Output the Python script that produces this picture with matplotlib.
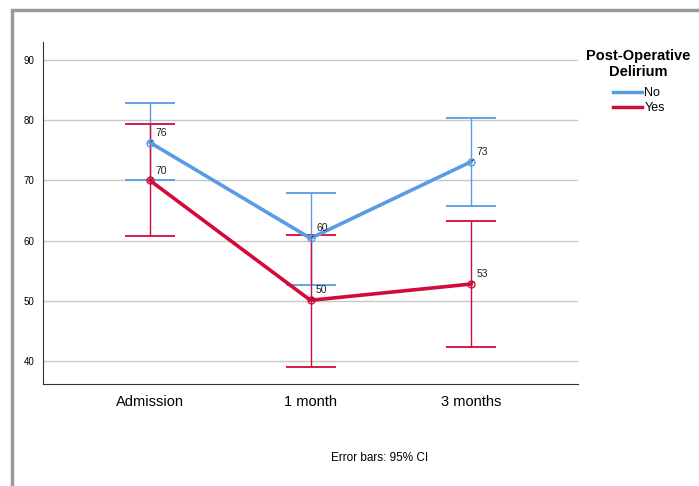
import numpy as np
import matplotlib.pyplot as plt
from matplotlib.patches import Rectangle

plt.rcParams['font.family'] = ['Liberation Sans', 'DejaVu Sans']

categories = ['Admission', '1 month', '3 months']
no_mean = [76.3, 60.4, 73.1]
no_lo = [70.0, 52.6, 65.7]
no_hi = [82.9, 68.0, 80.4]
yes_mean = [70.0, 50.1, 52.8]
yes_lo = [60.8, 39.0, 42.4]
yes_hi = [79.3, 60.9, 63.3]
no_labels = ['76', '60', '73']
yes_labels = ['70', '50', '53']

blue = '#5a9be6'
red = '#d50a3c'

fig = plt.figure(figsize=(6.99, 4.86), dpi=100)
ax = fig.add_axes([43/699, 1-384/486, (578-43)/699, (384-42)/486])

x = np.arange(len(categories))

def draw(mean, lo, hi, labels, col):
    mean = np.array(mean)
    err = [mean - np.array(lo), np.array(hi) - mean]
    ax.errorbar(x, mean, yerr=err, fmt='none', ecolor=col, elinewidth=1,
                capsize=18, capthick=1.3, zorder=3)
    ax.plot(x, mean, color=col, lw=2.6, zorder=4)
    ax.plot(x, mean, 'o', ms=5, mfc='none', mec=col, mew=1, zorder=5)
    for xi, yi, t in zip(x, mean, labels):
        ax.annotate(t, (xi, yi), xytext=(4, 5), textcoords='offset points',
                    fontsize=7.5, color='#222222', zorder=6,
                    arrowprops=dict(arrowstyle='-', lw=0.6, color='#222222',
                                    shrinkA=0, shrinkB=1))

draw(no_mean, no_lo, no_hi, no_labels, blue)
draw(yes_mean, yes_lo, yes_hi, yes_labels, red)

ax.set_xlim(-0.667, 2.667)
ax.set_ylim(36.2, 93)
ax.set_yticks([40, 50, 60, 70, 80, 90])
ax.set_xticks(x)
ax.set_xticklabels(categories, fontsize=10.5)
ax.tick_params(axis='y', length=0, labelsize=7, pad=6)
ax.tick_params(axis='x', length=0, pad=8)
ax.yaxis.grid(True, color='#c8c8c8', lw=1)
ax.set_axisbelow(True)
for s in ['top', 'right']:
    ax.spines[s].set_visible(False)
for s in ['left', 'bottom']:
    ax.spines[s].set_color('#333333')
    ax.spines[s].set_linewidth(0.8)

fig.text(638/699, 1-64/486, 'Post-Operative\nDelirium', ha='center', va='center',
         fontsize=10.5, fontweight='bold', linespacing=1.1)
ax.plot([], [], color=blue, lw=2.5, label='No')
ax.plot([], [], color=red, lw=2.5, label='Yes')
h, l = ax.get_legend_handles_labels()
fig.legend(h[-2:], l[-2:], loc='upper left', bbox_to_anchor=(613/699, 1-87/486),
           frameon=False, fontsize=9, handlelength=2.3, handletextpad=0.2,
           labelspacing=0.25, borderaxespad=0, borderpad=0)

fig.text(380/699, 1-458/486, 'Error bars: 95% CI', ha='center', va='center', fontsize=8.5)

fig.add_artist(Rectangle((12/699, -0.1), 1.2, 1-10/486+0.1, transform=fig.transFigure,
                         fill=False, ec='#9a9a9a', lw=2.5))

fig.savefig('out.png', dpi=100)
